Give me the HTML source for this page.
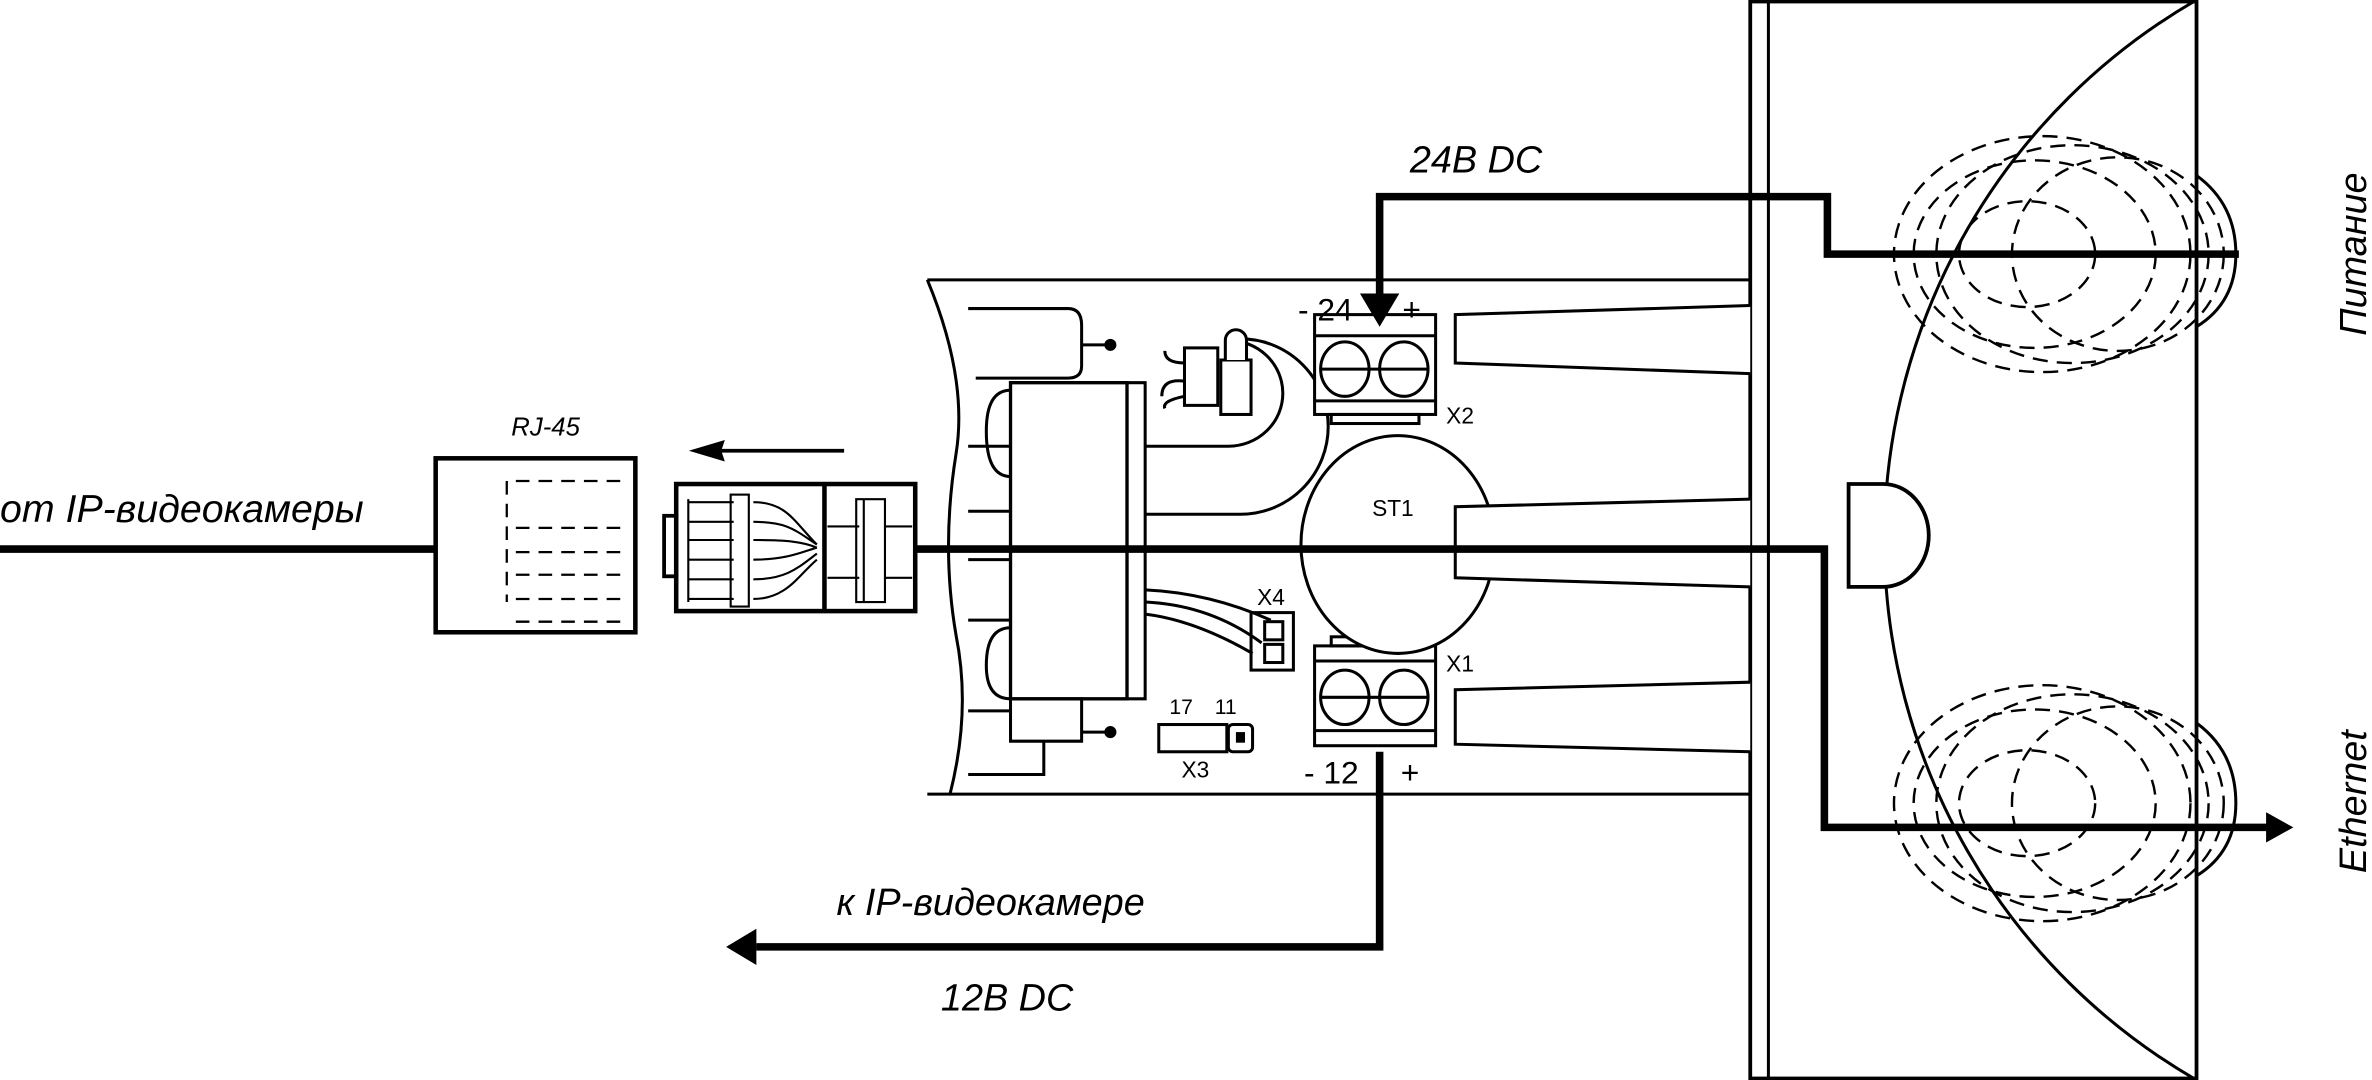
<!DOCTYPE html>
<html><head><meta charset="utf-8"><style>
html,body{margin:0;padding:0;background:#fff;}
svg{display:block;}
text{font-family:"Liberation Sans","DejaVu Sans",sans-serif;fill:#000;}
</style></head><body>
<svg width="2372" height="1080" viewBox="0 0 1568 714" preserveAspectRatio="none" xmlns="http://www.w3.org/2000/svg">
<rect width="1568" height="714" fill="#fff"/>
<g fill="none" stroke="#000" stroke-width="2">
<!-- housing -->
<rect x="1157" y="1" width="295" height="712" stroke-width="2.5"/>
<line x1="1169" y1="0" x2="1169" y2="714"/>
<path d="M1452,0 A412,412 0 0 0 1452,714"/>
<path d="M1222,320 H1245 A30,34 0 0 1 1245,388 H1222 Z" fill="#fff" stroke-width="2.5"/>
<!-- lamps -->
<g stroke-dasharray="10,6" stroke-width="1.6">
<ellipse cx="1340" cy="168" rx="45" ry="35"/>
<ellipse cx="1345" cy="168" rx="80" ry="62"/>
<ellipse cx="1350" cy="168" rx="98" ry="78"/>
<ellipse cx="1370" cy="168" rx="90" ry="72"/>
<ellipse cx="1400" cy="168" rx="70" ry="64"/>
<ellipse cx="1340" cy="531" rx="45" ry="35"/>
<ellipse cx="1345" cy="531" rx="80" ry="62"/>
<ellipse cx="1350" cy="531" rx="98" ry="78"/>
<ellipse cx="1370" cy="531" rx="90" ry="72"/>
<ellipse cx="1400" cy="531" rx="70" ry="64"/>
</g>
<path d="M1452,116 Q1478,135 1478,168 Q1478,200 1452,216"/>
<path d="M1452,478 Q1478,497 1478,531 Q1478,563 1452,579"/>
<!-- board -->
<path d="M613,185 H1157 M613,525 H1157"/>
<path d="M613,185 Q640,250 632,300 Q622,362 632,420 Q642,470 628,525"/>
<path d="M640,204 H706 Q715,204 715,215 V242 Q715,250 706,250 H645"/>
<line x1="715" y1="228" x2="733" y2="228"/><circle cx="734" cy="228" r="3" fill="#000"/>
<path d="M668,253 H745 V462 H668 Z" stroke-width="2.2"/>
<path d="M745,253 H757 V462 H745 Z"/>
<path d="M668,258 Q652,258 652,285 Q652,315 668,315"/>
<path d="M668,415 Q652,415 652,440 Q652,462 668,462"/>
<path d="M640,295 H668 M640,338 H668 M640,370 H668 M640,410 H668 M640,470 H668"/>
<path d="M668,462 H715 V490 H668 Z"/><line x1="715" y1="484" x2="733" y2="484"/><circle cx="734" cy="484" r="3" fill="#000"/>
<path d="M690,490 V512 H640"/>
<!-- U tube -->
<path d="M757,295 H812 A36,35 0 0 0 812,225"/>
<path d="M757,340 H820 A58,58 0 0 0 820,224" />
<rect x="783" y="230" width="22" height="38" fill="#fff"/>
<rect x="807" y="238" width="20" height="36" fill="#fff"/>
<path d="M810,238 V225 A7,7 0 0 1 824,225 V238" fill="#fff"/>
<path d="M783,240 Q770,240 770,232 M783,252 Q768,250 768,262 M783,262 Q768,265 770,270"/>
<!-- X4 wires -->
<path d="M757,390 Q800,392 840,410 M757,398 Q800,400 834,425 M757,406 Q790,410 828,432"/>
<rect x="827" y="405" width="28" height="38"/>
<rect x="836" y="411" width="12" height="12"/><rect x="836" y="426" width="12" height="12"/>
<!-- X3 -->
<rect x="766" y="479" width="45" height="18"/>
<rect x="812" y="479" width="16" height="18" rx="3"/>
<rect x="818" y="485" width="4" height="5" fill="#000"/>
<!-- terminals -->
<rect x="869" y="208" width="80" height="66" fill="#fff"/>
<line x1="869" y1="222" x2="949" y2="222"/><line x1="869" y1="265" x2="949" y2="265"/>
<ellipse cx="889" cy="244" rx="16" ry="18"/><ellipse cx="928" cy="244" rx="16" ry="18"/>
<line x1="873" y1="244" x2="944" y2="244"/>
<rect x="869" y="427" width="80" height="66" fill="#fff"/>
<line x1="869" y1="437" x2="949" y2="437"/><line x1="869" y1="483" x2="949" y2="483"/>
<ellipse cx="889" cy="461" rx="16" ry="18"/><ellipse cx="928" cy="461" rx="16" ry="18"/>
<line x1="873" y1="461" x2="944" y2="461"/>
<rect x="880" y="274" width="58" height="6"/><rect x="880" y="421" width="58" height="6"/>
<ellipse cx="924" cy="360" rx="64" ry="72" fill="#fff"/>
<!-- fingers -->
<path d="M1157,202 L962,208 V240 L1157,247" fill="#fff"/>
<path d="M1157,330 L962,335 V382 L1157,388" fill="#fff"/>
<path d="M1157,451 L962,456 V492 L1157,497" fill="#fff"/>
<!-- RJ45 socket -->
<rect x="288" y="303" width="132" height="115" stroke-width="3"/>
<g stroke-dasharray="9,6" stroke-width="1.5">
<path d="M410,318 H335 V398 M410,349 H335 M410,365 H335 M410,380 H335 M410,396 H335 M410,411 H335"/>
</g>
<!-- plug -->
<rect x="447" y="320" width="158" height="84" stroke-width="3"/>
<line x1="545" y1="320" x2="545" y2="404" stroke-width="3"/>
<rect x="439" y="341" width="8" height="40" stroke-width="2.5"/>
<g stroke-width="1.4">
<path d="M455,332 H485 M455,345 H485 M455,357 H485 M455,370 H485 M455,383 H485 M455,396 H485 M455,330 V398"/>
<rect x="483" y="327" width="12" height="74"/>
<path d="M498,332 C520,332 525,345 540,360 M498,345 C520,345 525,350 540,360 M498,357 C520,357 530,358 540,362 M498,370 C520,370 530,365 540,362 M498,383 C520,383 528,375 540,366 M498,396 C520,396 528,380 540,370"/>
<path d="M547,348 H568 M585,348 H603 M547,382 H568 M585,382 H603 M566,330 V398 H585 V330 Z M571,330 V398"/>
</g>
</g>
<!-- thick lines -->
<g fill="none" stroke="#000" stroke-width="5">
<path d="M0,363 H288 M605,363 H1206 V547 H1500"/>
<path d="M1480,168 H1208 V130 H912 V195"/>
<path d="M912,497 V626 H500"/>
</g>
<line x1="470" y1="298" x2="558" y2="298" stroke="#000" stroke-width="2.5"/>
<path d="M458,298 L478,292 L476,298 L478,304 Z" fill="#000" stroke="#000" stroke-width="1.5"/>
<path d="M899,194 L925,194 L912,216 Z" fill="#000"/>
<path d="M1498,537 L1516,547 L1498,557 Z" fill="#000"/>
<path d="M500,614 L480,626 L500,638 Z" fill="#000"/>
<!-- text -->
<text x="0" y="345" font-size="26" font-style="italic">от IP-видеокамеры</text>
<text x="338" y="288" font-size="17" font-style="italic">RJ-45</text>
<text x="932" y="114" font-size="25" font-style="italic">24В DC</text>
<text x="553" y="605" font-size="25" font-style="italic">к IP-видеокамере</text>
<text x="622" y="668" font-size="25" font-style="italic">12В DC</text>
<text x="858" y="212" font-size="21">- 24</text><text x="927" y="212" font-size="21">+</text>
<text x="862" y="518" font-size="21">- 12</text><text x="926" y="518" font-size="21">+</text>
<text x="956" y="280" font-size="15">X2</text>
<text x="956" y="444" font-size="15">X1</text>
<text x="907" y="341" font-size="15">ST1</text>
<text x="831" y="400" font-size="15">X4</text>
<text x="773" y="472" font-size="14">17</text><text x="803" y="472" font-size="14">11</text>
<text x="781" y="514" font-size="15">X3</text>
<text transform="translate(1564,168) rotate(-90)" font-size="25" font-style="italic" text-anchor="middle">Питание</text>
<text transform="translate(1564,530) rotate(-90)" font-size="25" font-style="italic" text-anchor="middle">Ethernet</text>
</svg>
</body></html>
